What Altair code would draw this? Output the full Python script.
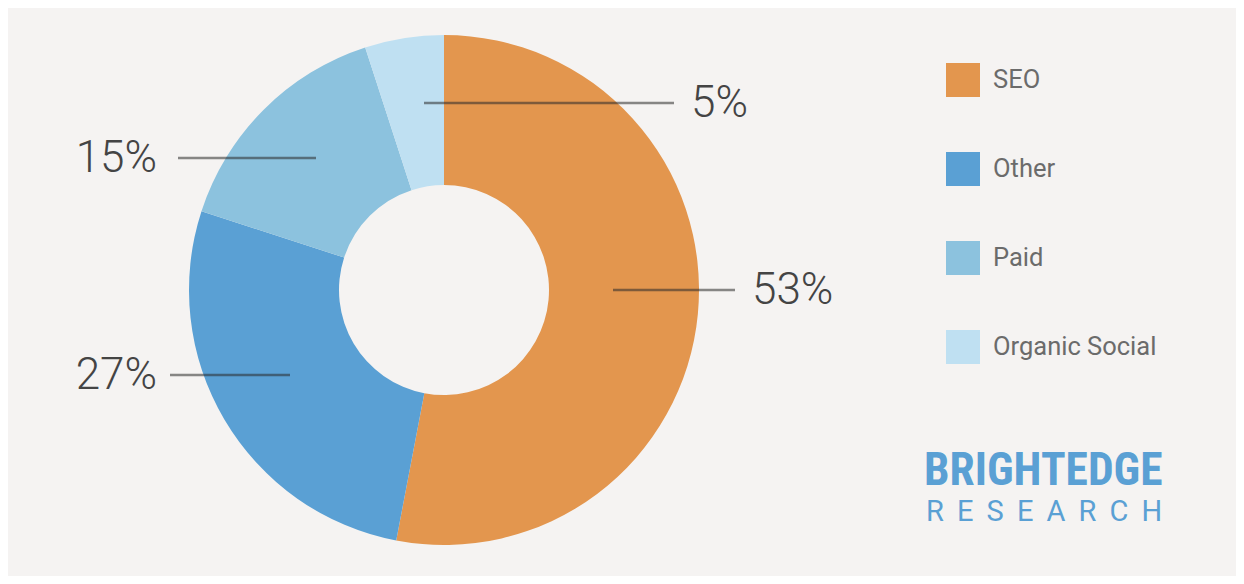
import altair as alt
import pandas as pd

# ---- data ----
categories = ["SEO", "Other", "Paid", "Organic Social"]
shares = [53, 27, 15, 5]
colors = ["#e3964e", "#5aa0d4", "#8cc2de", "#bfe0f2"]

# ---- layout (pixel positions of annotations, chart coordinates) ----
CX, CY = 436, 282
R_OUT, R_IN = 255, 105
leader_x1 = [605, 162, 170, 416]
leader_x2 = [727, 282, 308, 666]
leader_y = [282, 367, 150, 95]
label_x = [744, 149, 149, 683]
label_align = ["left", "right", "right", "left"]

df = pd.DataFrame({
    "category": categories,
    "share": shares,
    "order": list(range(len(categories))),
    "label": [f"{v}%" for v in shares],
    "x1": leader_x1,
    "x2": leader_x2,
    "y": leader_y,
    "lx": label_x,
    "align": label_align,
})

color_scale = alt.Scale(domain=categories, range=colors)

donut = alt.Chart(df).mark_arc(innerRadius=R_IN, outerRadius=R_OUT, stroke=None).encode(
    theta=alt.Theta("share:Q", stack=True),
    order=alt.Order("order:Q"),
    color=alt.Color(
        "category:N",
        scale=color_scale,
        sort=categories,
        legend=alt.Legend(
            title=None,
            orient="none",
            legendX=938,
            legendY=55,
            symbolType="square",
            symbolSize=1156,
            symbolStrokeWidth=0,
            rowPadding=55,
            labelFontSize=25.5,
            labelFont="Roboto",
            labelColor="#6b6b6b",
            labelOffset=13,
            labelLimit=400,
            padding=0,
        ),
    ),
    x=alt.value(CX),
    y=alt.value(CY),
)

leaders = alt.Chart(df).mark_rule(color="#2a2a2a", opacity=0.55, strokeWidth=2.6).encode(
    x=alt.X("x1:Q", scale=None),
    x2="x2:Q",
    y=alt.Y("y:Q", scale=None),
)

base_lbl = alt.Chart(df).encode(
    x=alt.X("lx:Q", scale=None),
    y=alt.Y("y:Q", scale=None),
    text="label:N",
)
labels_left = base_lbl.transform_filter(alt.datum.align == "left").mark_text(
    align="left", baseline="middle", font="Roboto", fontWeight=300, fontSize=44, color="#444444", dy=1
)
labels_right = base_lbl.transform_filter(alt.datum.align == "right").mark_text(
    align="right", baseline="middle", font="Roboto", fontWeight=300, fontSize=44, color="#444444", dy=1
)

logo_df = pd.DataFrame({"a": [0]})
logo1 = alt.Chart(logo_df).mark_text(
    align="left", baseline="alphabetic", font="Roboto Condensed, Liberation Sans Narrow, DejaVu Sans Condensed",
    fontWeight="bold", fontSize=45.5, color="#5aa0d4",
).encode(x=alt.value(916), y=alt.value(477), text=alt.value("BRIGHTEDGE"))
logo2 = alt.Chart(logo_df).mark_text(
    align="left", baseline="alphabetic", font="Roboto",
    fontSize=29, color="#5aa0d4",
).encode(x=alt.value(918), y=alt.value(513), text=alt.value(" \u2009".join("RESEARCH")))

chart = alt.layer(donut, leaders, labels_left, labels_right, logo1, logo2).properties(
    width=1228, height=568, background="#f5f3f2", padding=0,
    autosize=alt.AutoSizeParams(type="none"),
).configure_view(stroke=None)

chart.save("out.html", embed_options={"renderer": "svg", "actions": False})
